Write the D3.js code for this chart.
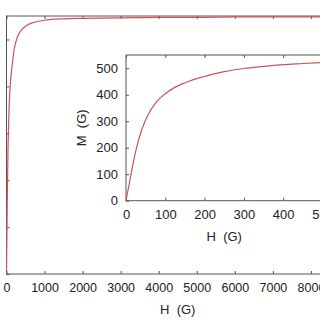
<!DOCTYPE html>
<html>
<head>
<meta charset="utf-8">
<script src="https://cdn.jsdelivr.net/npm/d3@7"></script>
<style>
  html, body { margin:0; padding:0; background:#fff; }
  #chart { width:320px; height:320px; overflow:hidden; }
  text { font-family: "Liberation Sans", Arial, sans-serif; fill:#222; }
</style>
</head>
<body>
<div id="chart"></div>
<script>
// main curve, H (G) vs M (G)
var mainH = [0, 10, 20, 40, 60, 80, 100, 150, 200, 300, 400, 500, 700, 1000, 1500, 2000, 3000, 4000, 5000, 6000, 7000, 8000, 9000];
var mainM = [0, 80, 155, 268, 335, 377, 404, 445, 478, 508, 521, 528, 536, 541, 544, 545, 546, 547, 547, 548, 548, 548, 548];
var mainXTicks = [0, 1000, 2000, 3000, 4000, 5000, 6000, 7000, 8000, 9000];
var mainYTicks = [0, 100, 200, 300, 400, 500];

// inset, low field part
var insetH = [0, 10, 20, 30, 40, 50, 60, 70, 80, 90, 100, 120, 140, 160, 180, 200, 250, 300, 350, 400, 450, 500];
var insetM = [0, 78, 155, 218, 268, 305, 335, 358, 377, 392, 404, 424, 439, 451, 461, 469, 487, 499, 507, 514, 518, 522];
var insetXTicks = [0, 100, 200, 300, 400, 500];
var insetYTicks = [0, 100, 200, 300, 400, 500];

var xLabel = "H  (G)", yLabel = "M  (G)";
var lineColor = "#cf5257", axisColor = "#555";

var svg = d3.select("#chart").append("svg")
  .attr("width", 320)
  .attr("height", 320);

function drawPanel(opt) {
  var x = d3.scaleLinear().domain(opt.xDomain).range([opt.left, opt.right]);
  var y = d3.scaleLinear().domain(opt.yDomain).range([opt.bottom, opt.top]);
  var g = svg.append("g");
  var fmt = d3.format("d");

  g.append("rect")
    .attr("x", opt.left).attr("y", opt.top)
    .attr("width", opt.right - opt.left).attr("height", opt.bottom - opt.top)
    .style("fill", "#fff").style("stroke", axisColor).style("stroke-width", 1);

  // ticks point inwards on every side
  var bottomAx = d3.axisBottom(x).tickValues(opt.xTicks).tickFormat(fmt).tickSize(-3).tickPadding(opt.pad).tickSizeOuter(0);
  var leftAx = d3.axisLeft(y).tickValues(opt.yTicks).tickFormat(fmt).tickSize(-3).tickPadding(opt.pad - 1).tickSizeOuter(0);
  var topAx = d3.axisTop(x).tickValues(opt.xTicks).tickSize(-3).tickFormat("").tickSizeOuter(0);

  var gb = g.append("g").attr("transform", "translate(0," + opt.bottom + ")").call(bottomAx);
  var gl = g.append("g").attr("transform", "translate(" + opt.left + ",0)").call(leftAx);
  var gt = g.append("g").attr("transform", "translate(0," + opt.top + ")").call(topAx);
  [gb, gl, gt].forEach(function(a){
    a.select(".domain").remove();
    a.selectAll("line").style("stroke", axisColor);
    a.selectAll("text").style("font-size", opt.fs + "px").style("fill", "#222");
  });
  if (opt.rightTicks) {
    var gr = g.append("g").attr("transform", "translate(" + opt.right + ",0)")
      .call(d3.axisRight(y).tickValues(opt.yTicks).tickSize(-3).tickFormat("").tickSizeOuter(0));
    gr.select(".domain").remove();
    gr.selectAll("line").style("stroke", axisColor);
  }

  var pts = opt.h.map(function(v, i){ return [v, opt.m[i]]; });
  var line = d3.line()
    .curve(d3.curveMonotoneX)
    .x(function(d){ return x(d[0]); })
    .y(function(d){ return y(d[1]); });
  g.append("path")
    .datum(pts)
    .attr("d", line)
    .style("fill", "none")
    .style("stroke", lineColor)
    .style("stroke-width", 1.2);

  g.append("text")
    .attr("x", (opt.left + opt.right) / 2)
    .attr("y", opt.xLabelY)
    .attr("text-anchor", "middle")
    .style("font-size", "13px")
    .style("white-space", "pre")
    .text(xLabel);

  g.append("text")
    .attr("transform", "translate(" + opt.yLabelX + "," + ((opt.top + opt.bottom) / 2) + ") rotate(-90)")
    .attr("text-anchor", "middle")
    .attr("dy", "0.35em")
    .style("font-size", "13px")
    .style("white-space", "pre")
    .text(yLabel);
}

// big plot (cropped on the left and right in the picture)
drawPanel({
  xDomain: [0, 9000], yDomain: [0, 550],
  left: 6.5, right: 349, top: 16, bottom: 274,
  xTicks: mainXTicks, yTicks: mainYTicks,
  h: mainH, m: mainM,
  pad: 9, fs: 12.5,
  xLabelY: 313.5, yLabelX: -45,
  rightTicks: true
});

// inset (right edge just outside the picture)
drawPanel({
  xDomain: [0, 500], yDomain: [0, 550],
  left: 126, right: 322.5, top: 55, bottom: 200.7,
  xTicks: insetXTicks, yTicks: insetYTicks,
  h: insetH, m: insetM,
  pad: 9, fs: 13,
  xLabelY: 240.5, yLabelX: 81.5,
  rightTicks: false
});
</script>
</body>
</html>
